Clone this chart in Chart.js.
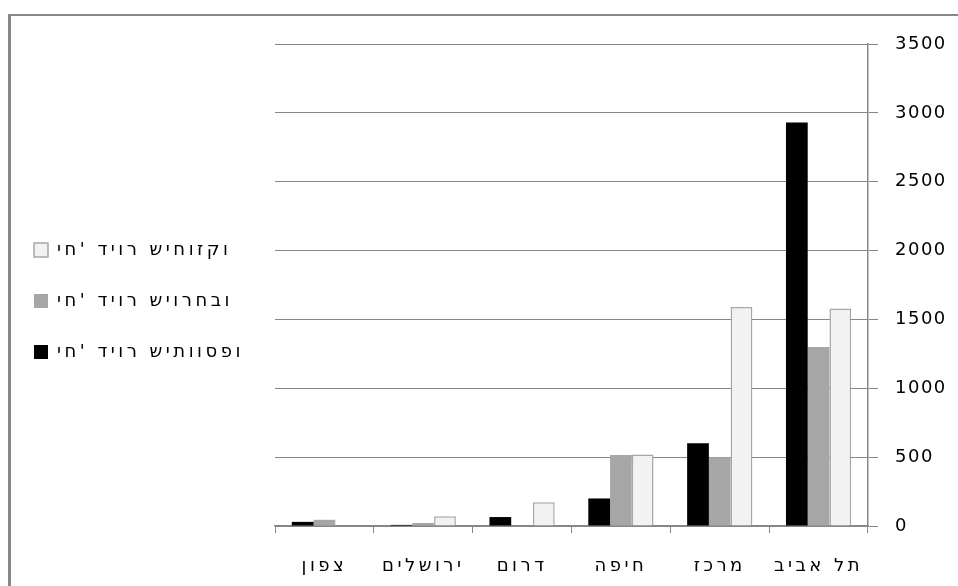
<!DOCTYPE html>
<html lang="he">
<head>
<meta charset="utf-8">
<title>יחידות דיור לפי מחוז</title>
<script src="https://cdn.jsdelivr.net/npm/chart.js@4/dist/chart.umd.min.js"></script>
<style>
  html, body { margin: 0; padding: 0; background: #ffffff; overflow: hidden; }
  #wrap { position: relative; width: 958px; height: 586px; }
</style>
</head>
<body>
<div id="wrap"><canvas id="chart" width="958" height="586"></canvas></div>
<script>
// Districts, left to right
const categories = ['צפון', 'ירושלים', 'דרום', 'חיפה', 'מרכז', 'תל אביב'];

// Housing units per district
const unitsAdded        = [30, 8, 65, 200, 600, 2930];      // יח' דיור שיתווספו
const unitsExpanded     = [45, 22, null, 515, 500, 1300];   // יח' דיור שיורחבו
const unitsStrengthened = [null, 70, 172, 520, 1590, 1580]; // יח' דיור שיחוזקו

// Series labels
const seriesLabels = ["יח' דיור שיתווספו", "יח' דיור שיורחבו", "יח' דיור שיחוזקו"];

// Value axis
const yMin = 0;
const yMax = 3500;
const yStep = 500;

const FONT_FAMILY = "'DejaVu Sans', 'Liberation Sans', sans-serif";
const LINE_GREY = '#878787';
const LEGEND_WIDTH = 274;
const HEBREW_SPACING = '3.5px';
const DIGIT_SPACING = '1.5px';

// Legend entries are laid out glyph by glyph, left to right
const leftToRight = (text) => '\u202D' + text + '\u202C';

// Keeps the left-hand legend at a fixed width so the plot starts at the same place
const legendWidthFix = {
  id: 'legendWidthFix',
  beforeLayout(chart) {
    const legend = chart.legend;
    if (legend && !legend.__fixedWidth) {
      const fit = legend.fit;
      legend.fit = function () {
        fit.call(this);
        this.width = LEGEND_WIDTH;
      };
      legend.__fixedWidth = true;
    }
  }
};

// Wider letter spacing for the axis and legend texts
function withSpacing(target, method, spacing) {
  if (!target || target['__spaced_' + method]) return;
  const original = target[method];
  target[method] = function (...args) {
    const ctx = this.ctx;
    const prev = ctx.letterSpacing;
    ctx.letterSpacing = spacing;
    try { return original.apply(this, args); }
    finally { ctx.letterSpacing = prev || '0px'; }
  };
  target['__spaced_' + method] = true;
}

const textSpacing = {
  id: 'textSpacing',
  beforeDraw(chart) {
    withSpacing(chart.scales.x, 'drawLabels', HEBREW_SPACING);
    withSpacing(chart.scales.y, 'drawLabels', DIGIT_SPACING);
    withSpacing(chart.legend, 'draw', HEBREW_SPACING);
    // category labels sit below the axis band; let them draw unclipped
    chart.scales.x._computeLabelArea = function () { return undefined; };
  }
};

// Outer frame along the top and left edges
const outerFrame = {
  id: 'outerFrame',
  afterDraw(chart) {
    const ctx = chart.ctx;
    ctx.save();
    ctx.fillStyle = LINE_GREY;
    ctx.fillRect(8, 14, chart.width - 8, 2);
    ctx.fillRect(8, 14, 3, chart.height - 14);
    ctx.restore();
  }
};

new Chart(document.getElementById('chart'), {
  type: 'bar',
  data: {
    labels: categories,
    datasets: [
      {
        label: seriesLabels[0],
        data: unitsAdded,
        backgroundColor: '#000000',
        borderColor: '#000000',
        borderWidth: 0
      },
      {
        label: seriesLabels[1],
        data: unitsExpanded,
        backgroundColor: '#a6a6a6',
        borderColor: '#a6a6a6',
        borderWidth: 0
      },
      {
        label: seriesLabels[2],
        data: unitsStrengthened,
        backgroundColor: '#f2f2f2',
        borderColor: '#a6a6a6',
        borderWidth: 1.5
      }
    ]
  },
  options: {
    responsive: false,
    animation: false,
    events: [],
    layout: { padding: { left: 1, top: 44, right: 0, bottom: 28 } },
    datasets: {
      bar: { categoryPercentage: 0.66, barPercentage: 1.0 }
    },
    plugins: {
      tooltip: { enabled: false },
      legend: {
        position: 'left',
        align: 'center',
        reverse: true,
        labels: {
          boxWidth: 14,
          boxHeight: 14,
          padding: 33,
          color: '#000000',
          font: { family: FONT_FAMILY, size: 18 },
          generateLabels(chart) {
            const items = Chart.defaults.plugins.legend.labels.generateLabels(chart);
            return items.map((item) => ({ ...item, text: leftToRight(item.text) }));
          }
        }
      }
    },
    scales: {
      x: {
        offset: true,
        afterFit(scale) { scale.height = 32; },
        grid: {
          display: true,
          offset: true,
          drawOnChartArea: false,
          drawTicks: true,
          tickLength: 7,
          color: LINE_GREY,
          lineWidth: 1
        },
        border: { display: true, color: LINE_GREY, width: 1.5 },
        ticks: {
          color: '#000000',
          padding: 23,
          font: { family: FONT_FAMILY, size: 18 }
        }
      },
      y: {
        position: 'right',
        min: yMin,
        max: yMax,
        afterFit(scale) { scale.width = 90; },
        grid: {
          color: LINE_GREY,
          lineWidth: 1,
          drawTicks: true,
          tickLength: 10
        },
        border: { display: true, color: LINE_GREY, width: 1.5 },
        ticks: {
          stepSize: yStep,
          color: '#000000',
          padding: 17,
          font: { family: FONT_FAMILY, size: 18 },
          callback: (value) => String(value)
        }
      }
    }
  },
  plugins: [legendWidthFix, textSpacing, outerFrame]
});
</script>
</body>
</html>
